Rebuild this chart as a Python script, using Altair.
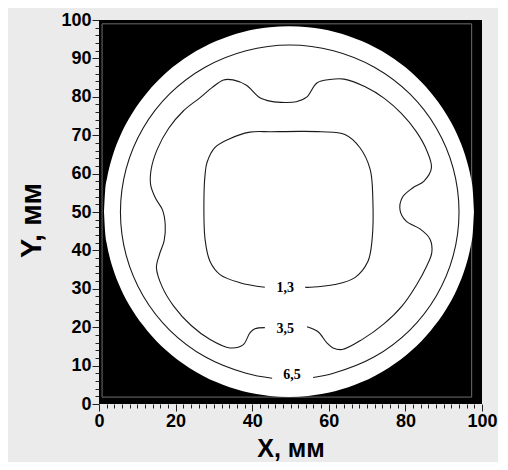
import altair as alt
import pandas as pd

# ---- white disc outline ----
disc_x = [1.3, 1.6, 2.1, 2.6, 3.6, 5.6, 8.6, 12.6, 17.6, 23.6, 30.6, 37.6, 44.6, 49.6,
          54.6, 61.6, 68.6, 75.6, 81.6, 86.6, 90.6, 93.6, 95.6, 96.6, 97.1, 97.6, 97.9]
disc_lo = [50.1, 44.7, 41.35, 39.0, 35.4, 30.2, 24.6, 19.1, 13.9, 9.4, 5.7, 3.3, 2.1, 1.8,
           2.1, 3.3, 5.7, 9.4, 13.9, 19.1, 24.6, 30.2, 35.4, 39.0, 41.35, 44.7, 50.1]
disc_hi = [50.1, 55.5, 58.85, 61.2, 64.8, 70.0, 75.6, 81.1, 86.3, 90.8, 94.5, 96.9, 98.1, 98.4,
           98.1, 96.9, 94.5, 90.8, 86.3, 81.1, 75.6, 70.0, 64.8, 61.2, 58.85, 55.5, 50.1]

# ---- contour 1,3 ----
c13_x = [53.8, 55.1, 61.6, 66.8, 70.2, 71.3, 71.5, 70.8, 68.1, 64.2, 58.0, 52.5, 45.0, 39.4,
         33.7, 30.3, 28.2, 27.7, 27.4, 27.7, 29.0, 31.6, 36.8, 43.3]
c13_y = [30.4, 30.4, 31.1, 32.9, 37.1, 42.8, 53.3, 61.1, 66.8, 70.2, 70.9, 71.0, 70.9, 70.8,
         68.9, 66.8, 62.9, 59.8, 53.3, 42.8, 37.1, 33.7, 31.6, 30.4]

# ---- contour 3,5 ----
c35_x = [54.3, 57.2, 59.5, 61.1, 63.5, 68.85, 74.3, 79.1, 82.9, 85.6, 86.9, 86.4, 83.8, 80.2,
         78.6, 79.2, 81.8, 84.8, 86.8, 85.5, 82.8, 79.0, 74.5, 69.5, 64.0, 60.3, 56.9, 54.2,
         51.5, 48.6, 45.0, 41.8, 38.5, 35.0, 32.5, 29.5, 26.4, 22.0, 18.2, 15.2, 13.6, 13.5,
         14.8, 16.6, 17.3, 17.0, 15.8, 15.0, 16.5, 19.5, 24.0, 29.0, 34.2, 37.6, 39.4, 40.7, 43.3]
c35_y = [20.1, 18.8, 15.9, 14.6, 14.2, 16.9, 20.8, 25.5, 31.0, 36.0, 39.5, 43.0, 45.6, 47.6,
         50.5, 53.8, 56.2, 58.0, 61.5, 66.2, 71.0, 75.6, 79.6, 82.6, 84.6, 84.5, 83.6, 79.9,
         78.7, 78.5, 78.8, 79.9, 83.0, 84.4, 84.4, 82.4, 79.8, 76.3, 71.8, 66.3, 61.0, 57.0,
         53.5, 50.5, 46.5, 42.5, 39.0, 35.5, 30.5, 25.5, 20.5, 16.8, 14.6, 15.4, 18.5, 19.6, 19.9]

# ---- contour 6,5 ----
c65_x = [55.9, 61.2, 71.9, 81.1, 88.1, 92.5, 94.0, 92.5, 88.1, 81.1, 71.9, 61.2, 49.8, 38.4,
         27.7, 18.5, 11.5, 7.1, 5.6, 7.1, 11.5, 18.5, 27.7, 38.4, 45.2]
c65_y = [6.9, 8.0, 12.3, 19.2, 28.2, 38.7, 50.0, 61.3, 71.8, 80.8, 87.7, 92.0, 93.5, 92.0,
         87.7, 80.8, 71.8, 61.3, 50.0, 38.7, 28.2, 19.2, 12.3, 8.0, 6.7]

# ---- contour labels ----
lab_text = ["1,3", "3,5", "6,5"]
lab_x = [48.6, 48.6, 50.4]
lab_y = [30.3, 19.6, 7.5]

# ---- inner frame of the measurement area ----
frame_x = [0.8]
frame_x2 = [97.3]
frame_y = [1.8]
frame_y2 = [99.0]

x_ticks = list(range(0, 101, 2))
y_ticks = list(range(0, 101, 2))

disc_df = pd.DataFrame({"x": disc_x, "y": disc_lo, "y2": disc_hi})
rows = []
for lvl, xs, ys in [("1,3", c13_x, c13_y), ("3,5", c35_x, c35_y), ("6,5", c65_x, c65_y)]:
    for i, (a, b) in enumerate(zip(xs, ys)):
        rows.append({"x": a, "y": b, "i": i, "level": lvl})
cont_df = pd.DataFrame(rows)
lab_df = pd.DataFrame({"x": lab_x, "y": lab_y, "t": lab_text})
frame_df = pd.DataFrame({"x": frame_x, "x2": frame_x2, "y": frame_y, "y2": frame_y2})

sx = alt.Scale(domain=[0, 100], nice=False, zero=False)
sy = alt.Scale(domain=[0, 100], nice=False, zero=False)

ax_x = alt.Axis(
    values=x_ticks, title="X, мм", grid=False, domain=False,
    labelExpr="datum.value % 20 === 0 ? datum.label : ''",
    tickSize={"condition": {"test": "datum.value % 20 === 0", "value": 7}, "value": 4},
    labelOverlap=False, labelFlush=False, labelPadding=1,
    labelFont="Liberation Sans", labelFontSize=18, labelFontWeight="bold", labelColor="black",
    tickColor="#222", titleFont="Liberation Sans", titleFontSize=25, titleFontWeight="bold",
    titleColor="black", titleBaseline="alphabetic", titleY=52,
)
ax_y = alt.Axis(
    values=y_ticks, title="Y, мм", grid=False, domain=False,
    labelExpr="datum.value % 10 === 0 ? datum.label : ''",
    tickSize={"condition": {"test": "datum.value % 10 === 0", "value": 7}, "value": 4},
    labelOverlap=False, labelFlush=False, labelPadding=1,
    labelFont="Liberation Sans", labelFontSize=18, labelFontWeight="bold", labelColor="black",
    tickColor="#222", titleFont="Liberation Sans", titleFontSize=29, titleFontWeight="bold",
    titleColor="black", titlePadding=14, titleY=200,
)

disc = alt.Chart(disc_df).mark_area(color="white", interpolate="monotone").encode(
    x=alt.X("x:Q", scale=sx, axis=ax_x),
    y=alt.Y("y:Q", scale=sy, axis=ax_y),
    y2="y2:Q",
)

frame = alt.Chart(frame_df).mark_rect(fillOpacity=0, stroke="#6e6e6e", strokeWidth=1).encode(
    x=alt.X("x:Q", scale=sx, axis=ax_x),
    x2="x2:Q",
    y=alt.Y("y:Q", scale=sy, axis=ax_y),
    y2="y2:Q",
)

lines = alt.Chart(cont_df).mark_line(color="#1a1a1a", strokeWidth=1.1, interpolate="catmull-rom").encode(
    x=alt.X("x:Q", scale=sx, axis=ax_x),
    y=alt.Y("y:Q", scale=sy, axis=ax_y),
    detail="level:N",
    order="i:Q",
)

labels = alt.Chart(lab_df).mark_text(font="Liberation Serif", fontWeight="bold", fontSize=14,
                                       color="black").encode(
    x=alt.X("x:Q", scale=sx, axis=ax_x),
    y=alt.Y("y:Q", scale=sy, axis=ax_y),
    text="t:N",
)

chart = alt.layer(frame, disc, lines, labels).properties(
    width=383, height=384,
    autosize=alt.AutoSizeParams(type="none"),
    padding={"left": 91, "top": 12, "right": 16, "bottom": 58},
    background="#ebebeb",
).configure_view(fill="black", strokeWidth=0)

chart.save("out.html", embed_options={"renderer": "svg", "actions": False})
